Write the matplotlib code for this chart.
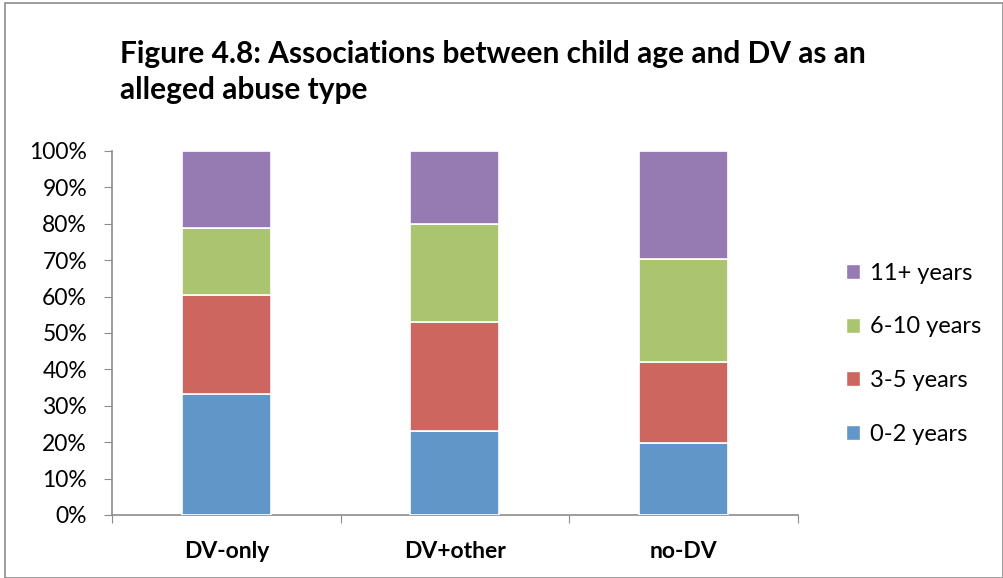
import numpy as np
import matplotlib.pyplot as plt
from matplotlib.patches import Rectangle, Patch

# Share of children in each age band, by DV group (percent)
groups = ['DV-only', 'DV+other', 'no-DV']
age_bands = ['0-2 years', '3-5 years', '6-10 years', '11+ years']
age_0_2 = [33.2, 23.1, 19.9]
age_3_5 = [27.3, 29.9, 22.1]
age_6_10 = [18.2, 27.0, 28.2]
age_11_plus = [21.3, 20.0, 29.8]
y_ticks = [0, 10, 20, 30, 40, 50, 60, 70, 80, 90, 100]

colors = ['#6096C8', '#CD665F', '#ABC46F', '#957BB1']

plt.rcParams['font.family'] = ['Lato', 'DejaVu Sans']

fig = plt.figure(figsize=(10.04, 5.78), dpi=100)
fig.patches.append(Rectangle((0.005, 0.0), 0.994, 0.994, transform=fig.transFigure,
                             fill=False, edgecolor='#8C8C8C', linewidth=1.2))

ax = fig.add_axes([0.1116, 0.109, 0.683, 0.630])

x = np.arange(len(groups))
bottom = np.zeros(len(groups))
for label, vals, c in zip(age_bands, [age_0_2, age_3_5, age_6_10, age_11_plus], colors):
    ax.bar(x, vals, width=0.39, bottom=bottom, color=c, edgecolor='white',
           linewidth=1.2, label=label, zorder=3)
    bottom += np.array(vals)

ax.set_xlim(-0.5, 2.5)
ax.set_ylim(0, 100)
ax.set_yticks(y_ticks)
ax.set_yticklabels([f'{t}%' for t in y_ticks], fontsize=16.5)
ax.set_xticks([-0.5, 0.5, 1.5, 2.5])
ax.set_xticklabels([])
ax.set_xticks(x, minor=True)
ax.set_xticklabels(groups, minor=True, fontsize=16.5, fontweight='bold')
ax.tick_params(axis='x', which='minor', length=0, pad=19)
ax.tick_params(axis='x', which='major', length=6, color='#8C8C8C', direction='out')
ax.tick_params(axis='y', length=6, color='#8C8C8C', direction='out', pad=12)

for side in ['top', 'right']:
    ax.spines[side].set_visible(False)
for side in ['left', 'bottom']:
    ax.spines[side].set_color('#8C8C8C')
    ax.spines[side].set_linewidth(1.2)

fig.text(0.1195, 0.8754, 'Figure 4.8: Associations between child age and DV as an\nalleged abuse type',
         fontsize=21.5, fontweight='bold', va='center', ha='left', linespacing=1.33)

handles = [Patch(facecolor=c, edgecolor='white') for c in colors][::-1]
fig.legend(handles, age_bands[::-1], loc='center left', bbox_to_anchor=(0.821, 0.388),
           frameon=False, fontsize=17, handlelength=0.6, handleheight=0.6,
           handletextpad=0.45, labelspacing=1.38)

fig.savefig('out.png', dpi=100)
